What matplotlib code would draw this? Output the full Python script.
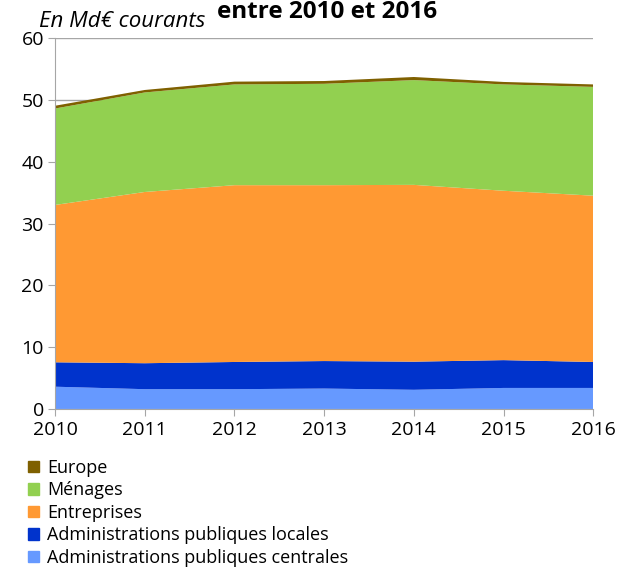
import numpy as np
import matplotlib.pyplot as plt
from matplotlib.patches import Patch

plt.rcParams['font.family'] = ['Open Sans', 'DejaVu Sans']

years = [2010, 2011, 2012, 2013, 2014, 2015, 2016]
centrales = [3.6, 3.2, 3.2, 3.3, 3.1, 3.4, 3.4]
locales = [3.95, 4.2, 4.4, 4.45, 4.55, 4.5, 4.2]
entreprises = [25.45, 27.7, 28.6, 28.45, 28.6, 27.4, 26.9]
menages = [15.6, 16.1, 16.3, 16.4, 16.95, 17.2, 17.6]
europe = [0.45, 0.4, 0.45, 0.45, 0.5, 0.4, 0.4]

labels = ['Administrations publiques centrales', 'Administrations publiques locales',
          'Entreprises', 'Ménages', 'Europe']
colors = ['#6699ff', '#0033cc', '#ff9933', '#92d050', '#7f6000']

fig = plt.figure(figsize=(6.18, 5.68), dpi=100)
ax = fig.add_axes([0.089, 0.280, 0.871, 0.653])

ax.stackplot(years, centrales, locales, entreprises, menages, europe,
             colors=colors, linewidth=0, zorder=2)

ax.set_xlim(2010, 2016)
ax.set_ylim(0, 60)
ax.set_yticks(range(0, 61, 10))
ax.set_xticks(years)
ax.grid(axis='y', color='#a6a6a6', linewidth=1, zorder=0)
for s in ['top', 'right']:
    ax.spines[s].set_visible(False)
for s in ['left', 'bottom']:
    ax.spines[s].set_color('#a6a6a6')
    ax.spines[s].set_zorder(3)
ax.tick_params(colors='#a6a6a6', labelcolor='black', labelsize=14, length=5)
ax.tick_params(axis='x', pad=4)
ax.tick_params(axis='y', pad=3)

fig.text(0.063, 0.963, 'En Md€ courants', fontsize=16, style='italic', va='center')
fig.text(0.53, 0.978, 'entre 2010 et 2016', fontsize=17.5, weight='bold',
         ha='center', va='center')

handles = [Patch(color=c, label=l) for c, l in zip(colors, labels)]
handles = handles[::-1]
fig.legend(handles=handles, loc='upper left', bbox_to_anchor=(0.045, 0.192),
           frameon=False, fontsize=13, handlelength=0.6, handleheight=0.6,
           handletextpad=0.45, labelspacing=0.25, borderaxespad=0, borderpad=0)

fig.savefig('out.png', dpi=100)
